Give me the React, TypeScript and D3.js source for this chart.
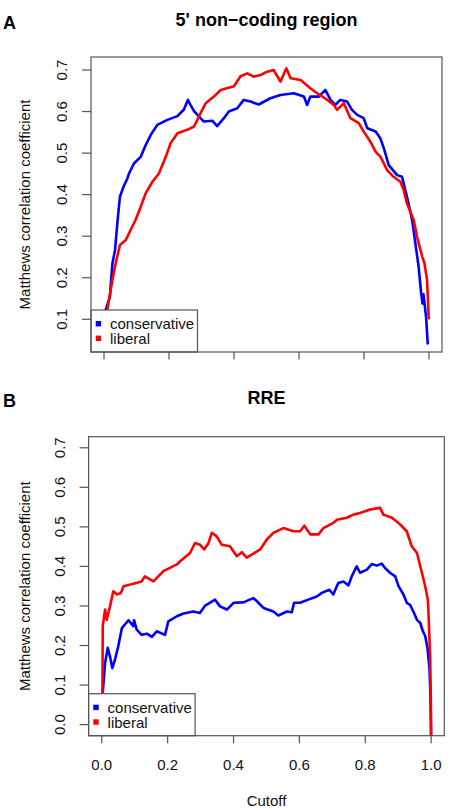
import * as d3 from "d3";

// cutoff / Matthews correlation coefficient pairs
const utrConservative: [number, number][] = [
  [0.0, 0.04], [0.003, 0.08], [0.005, 0.122], [0.018, 0.154], [0.026, 0.235], [0.034, 0.267],
  [0.041, 0.331], [0.049, 0.395], [0.06, 0.419], [0.072, 0.439], [0.077, 0.451], [0.092, 0.475],
  [0.113, 0.491], [0.128, 0.519], [0.144, 0.544], [0.164, 0.568], [0.195, 0.58], [0.226, 0.589],
  [0.246, 0.605], [0.258, 0.628], [0.266, 0.616], [0.277, 0.601], [0.307, 0.576], [0.333, 0.578],
  [0.348, 0.565], [0.369, 0.584], [0.384, 0.6], [0.41, 0.608], [0.43, 0.628], [0.451, 0.624],
  [0.476, 0.617], [0.512, 0.632], [0.543, 0.64], [0.584, 0.644], [0.615, 0.636], [0.625, 0.616],
  [0.635, 0.636], [0.661, 0.636], [0.681, 0.652], [0.697, 0.628], [0.712, 0.616], [0.727, 0.628],
  [0.748, 0.624], [0.763, 0.604], [0.779, 0.592], [0.799, 0.584], [0.81, 0.56], [0.836, 0.552],
  [0.85, 0.536], [0.861, 0.512], [0.876, 0.471], [0.902, 0.447], [0.917, 0.443], [0.927, 0.411],
  [0.937, 0.379], [0.948, 0.339], [0.958, 0.283], [0.968, 0.227], [0.976, 0.162], [0.98, 0.138],
  [0.983, 0.16], [0.991, 0.106], [0.996, 0.042], [0.998, 0.04],
];

const utrLiberal: [number, number][] = [
  [0.0, 0.04], [0.006, 0.09], [0.01, 0.122], [0.026, 0.195], [0.036, 0.235], [0.049, 0.279],
  [0.067, 0.291], [0.082, 0.315], [0.097, 0.339], [0.113, 0.371], [0.128, 0.403], [0.149, 0.431],
  [0.169, 0.451], [0.19, 0.491], [0.205, 0.524], [0.226, 0.548], [0.256, 0.556], [0.277, 0.564],
  [0.297, 0.596], [0.313, 0.62], [0.338, 0.636], [0.359, 0.652], [0.4, 0.661], [0.42, 0.685],
  [0.441, 0.692], [0.46, 0.684], [0.482, 0.688], [0.502, 0.696], [0.522, 0.7], [0.543, 0.672],
  [0.561, 0.704], [0.574, 0.68], [0.605, 0.676], [0.635, 0.656], [0.656, 0.644], [0.687, 0.628],
  [0.707, 0.616], [0.717, 0.604], [0.738, 0.62], [0.758, 0.584], [0.784, 0.572], [0.799, 0.552],
  [0.82, 0.527], [0.836, 0.503], [0.851, 0.491], [0.871, 0.459], [0.891, 0.443], [0.912, 0.431],
  [0.922, 0.411], [0.932, 0.379], [0.953, 0.339], [0.963, 0.299], [0.979, 0.251], [0.986, 0.235],
  [0.994, 0.195], [0.999, 0.106], [1.0, 0.1],
];

const rreConservative: [number, number][] = [
  [0.002, -0.03], [0.003, 0.08], [0.01, 0.156], [0.018, 0.194], [0.025, 0.172], [0.032, 0.143],
  [0.04, 0.164], [0.05, 0.198], [0.061, 0.244], [0.081, 0.264], [0.096, 0.249], [0.098, 0.264],
  [0.106, 0.24], [0.121, 0.227], [0.137, 0.23], [0.152, 0.222], [0.167, 0.236], [0.192, 0.227],
  [0.202, 0.261], [0.228, 0.274], [0.248, 0.281], [0.278, 0.286], [0.298, 0.282], [0.314, 0.301],
  [0.344, 0.316], [0.359, 0.299], [0.38, 0.291], [0.4, 0.308], [0.43, 0.309], [0.46, 0.32],
  [0.471, 0.312], [0.491, 0.295], [0.521, 0.286], [0.536, 0.276], [0.562, 0.286], [0.577, 0.284],
  [0.584, 0.308], [0.602, 0.308], [0.627, 0.316], [0.653, 0.324], [0.668, 0.333], [0.691, 0.341],
  [0.703, 0.329], [0.718, 0.358], [0.734, 0.362], [0.749, 0.352], [0.759, 0.375], [0.774, 0.4],
  [0.784, 0.384], [0.805, 0.392], [0.82, 0.406], [0.835, 0.402], [0.85, 0.407], [0.86, 0.396],
  [0.875, 0.384], [0.891, 0.375], [0.901, 0.35], [0.916, 0.329], [0.926, 0.308], [0.936, 0.303],
  [0.946, 0.286], [0.957, 0.265], [0.967, 0.257], [0.975, 0.236], [0.982, 0.224], [0.989, 0.193],
  [0.995, 0.143], [0.998, 0.071], [1.0, -0.03],
];

const rreLiberal: [number, number][] = [
  [0.0, -0.03], [0.002, 0.08], [0.003, 0.249], [0.01, 0.291], [0.015, 0.265], [0.025, 0.299],
  [0.035, 0.337], [0.046, 0.329], [0.058, 0.333], [0.066, 0.35], [0.096, 0.356], [0.121, 0.362],
  [0.131, 0.375], [0.157, 0.362], [0.187, 0.388], [0.228, 0.405], [0.238, 0.413], [0.268, 0.434],
  [0.283, 0.459], [0.298, 0.455], [0.311, 0.443], [0.324, 0.459], [0.334, 0.485], [0.349, 0.476],
  [0.364, 0.455], [0.389, 0.451], [0.41, 0.426], [0.425, 0.436], [0.44, 0.422], [0.481, 0.443],
  [0.501, 0.468], [0.521, 0.485], [0.551, 0.497], [0.582, 0.489], [0.602, 0.489], [0.615, 0.503],
  [0.633, 0.481], [0.658, 0.481], [0.673, 0.497], [0.703, 0.51], [0.714, 0.518], [0.744, 0.523],
  [0.764, 0.531], [0.784, 0.535], [0.815, 0.544], [0.845, 0.548], [0.855, 0.531], [0.881, 0.523],
  [0.906, 0.506], [0.926, 0.489], [0.941, 0.451], [0.957, 0.434], [0.972, 0.384], [0.982, 0.35],
  [0.99, 0.316], [0.992, 0.282], [0.997, 0.172], [0.999, 0.071], [1.0, -0.03],
];

const xTicks = [0, 0.2, 0.4, 0.6, 0.8, 1.0];
const utrYTicks = [0.1, 0.2, 0.3, 0.4, 0.5, 0.6, 0.7];
const rreYTicks = [0.0, 0.1, 0.2, 0.3, 0.4, 0.5, 0.6, 0.7];
const seriesNames = ["conservative", "liberal"];
const seriesColors = ["#0000ff", "#ff0000"];

const FONT = "'Liberation Sans', Arial, Helvetica, sans-serif";
const AXIS = "#555";

type PanelProps = {
  id: string;
  letter: string;
  title: string;
  titleY: number;
  left: number;
  right: number;
  top: number;
  bottom: number;
  yDomain: [number, number];
  yTicks: number[];
  series: [number, number][][];
  showXLabels: boolean;
};

function Panel(p: PanelProps) {
  const x = d3.scaleLinear().domain([-0.04, 1.04]).range([p.left, p.right]);
  const y = d3.scaleLinear().domain(p.yDomain).range([p.bottom, p.top]);
  const line = d3
    .line<[number, number]>()
    .x((d) => x(d[0]))
    .y((d) => y(d[1]));
  const midY = (p.top + p.bottom) / 2;
  const lgTop = p.bottom - 42;
  return (
    <g>
      <defs>
        <clipPath id={p.id}>
          <rect x={p.left} y={p.top} width={p.right - p.left} height={p.bottom - p.top} />
        </clipPath>
      </defs>
      <text x={3} y={p.titleY + 3} fontSize={18} fontWeight="bold" fontFamily={FONT}>
        {p.letter}
      </text>
      <text x={266.5} y={p.titleY} textAnchor="middle" fontSize={18} fontWeight="bold" fontFamily={FONT}>
        {p.title}
      </text>

      <g clipPath={`url(#${p.id})`}>
        {p.series.map((s, i) => (
          <path key={i} d={line(s) ?? ""} fill="none" stroke={seriesColors[i]} strokeWidth={2.6} strokeLinejoin="round" />
        ))}
      </g>

      {/* legend */}
      <rect x={p.left} y={lgTop} width={106.5} height={42} fill="#fff" stroke={AXIS} strokeWidth={1.2} />
      {seriesNames.map((n, i) => (
        <g key={n}>
          <rect x={p.left + 4.7} y={lgTop + 11 + i * 14.6} width={5.4} height={5.4} fill={seriesColors[i]} />
          <text x={p.left + 19} y={lgTop + 19.3 + i * 14.6} fontSize={15} fontFamily={FONT} fill="#111">
            {n}
          </text>
        </g>
      ))}

      <rect x={p.left} y={p.top} width={p.right - p.left} height={p.bottom - p.top} fill="none" stroke={AXIS} strokeWidth={1.2} />

      {/* x axis */}
      {xTicks.map((t) => (
        <g key={t}>
          <line x1={x(t)} x2={x(t)} y1={p.bottom} y2={p.bottom + 7.5} stroke={AXIS} strokeWidth={1.2} />
          {p.showXLabels && (
            <text x={x(t)} y={p.bottom + 34} textAnchor="middle" fontSize={15} fontFamily={FONT} fill="#111">
              {d3.format(".1f")(t)}
            </text>
          )}
        </g>
      ))}

      {/* y axis */}
      {p.yTicks.map((t) => (
        <g key={t}>
          <line x1={p.left - 9} x2={p.left} y1={y(t)} y2={y(t)} stroke={AXIS} strokeWidth={1.2} />
          <text
            transform={`translate(${p.left - 24},${y(t)}) rotate(-90)`}
            textAnchor="middle"
            fontSize={15}
            fontFamily={FONT}
            fill="#111"
          >
            {d3.format(".1f")(t)}
          </text>
        </g>
      ))}
      <text
        transform={`translate(30,${midY}) rotate(-90)`}
        textAnchor="middle"
        fontSize={15}
        fontFamily={FONT}
        fill="#111"
      >
        Matthews correlation coefficient
      </text>
    </g>
  );
}

export default function App() {
  return (
    <svg
      width={450}
      height={811}
      style={{ position: "absolute", left: 0, top: 0, background: "#fff" }}
    >
      <rect width={450} height={811} fill="#fff" />
      <Panel
        id="clip-utr"
        letter="A"
        title="5' non−coding region"
        titleY={26}
        left={91}
        right={442}
        top={57}
        bottom={352}
        yDomain={[0.0213, 0.7313]}
        yTicks={utrYTicks}
        series={[utrConservative, utrLiberal]}
        showXLabels={false}
      />
      <Panel
        id="clip-rre"
        letter="B"
        title="RRE"
        titleY={404}
        left={88.6}
        right={444.3}
        top={436.7}
        bottom={735.7}
        yDomain={[-0.028, 0.728]}
        yTicks={rreYTicks}
        series={[rreConservative, rreLiberal]}
        showXLabels={true}
      />
      <text x={266.5} y={806} textAnchor="middle" fontSize={15} fontFamily={FONT} fill="#111">
        Cutoff
      </text>
    </svg>
  );
}
